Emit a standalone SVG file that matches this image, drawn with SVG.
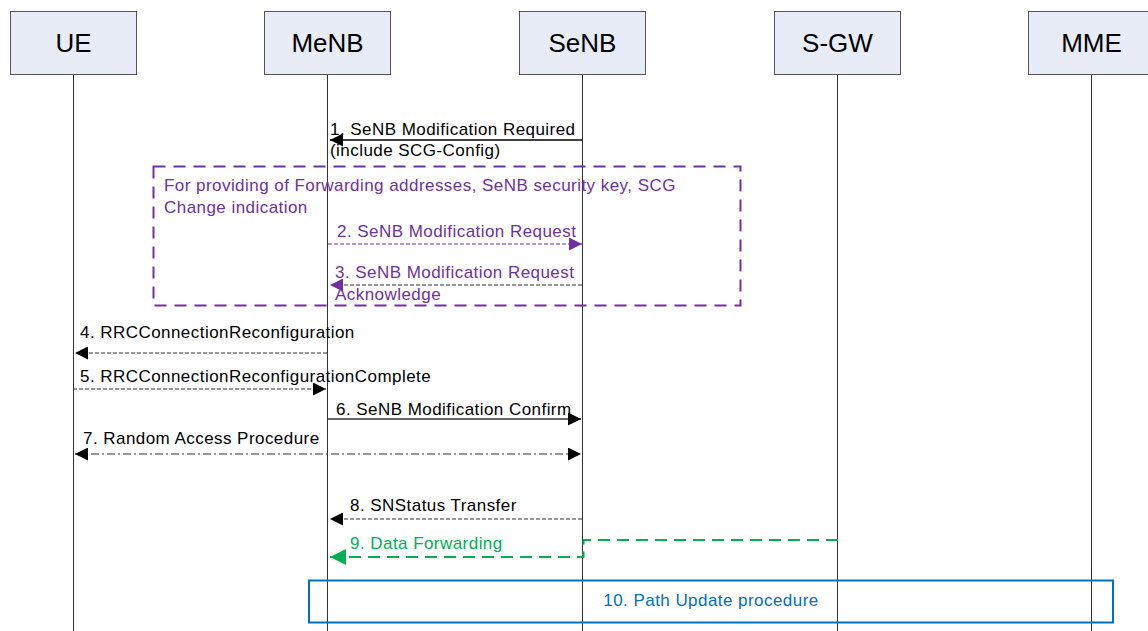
<svg xmlns="http://www.w3.org/2000/svg" width="1148" height="631" viewBox="0 0 1148 631">
<style>
.hdr{fill:#E7ECF6;stroke:#555;stroke-width:1}
.ht{font-family:"Liberation Sans",Arial,sans-serif;font-size:26px;fill:#000;text-anchor:middle}
.life{stroke:#333;stroke-width:1}
.t{font-family:"Liberation Sans",Arial,sans-serif;font-size:17px;letter-spacing:0.45px;fill:#000}
.p{fill:#7030A0}
.g{fill:#00B050}
.b{fill:#0070C0}
</style>
<defs>
<marker id="ab" viewBox="0 0 10 10" refX="10" refY="5" markerWidth="17" markerHeight="13" markerUnits="userSpaceOnUse" orient="auto-start-reverse"><path d="M0,0L10,5L0,10z" fill="#000"/></marker>
<marker id="ap" viewBox="0 0 10 10" refX="10" refY="5" markerWidth="17" markerHeight="13" markerUnits="userSpaceOnUse" orient="auto-start-reverse"><path d="M0,0L10,5L0,10z" fill="#7030A0"/></marker>
<marker id="ag" viewBox="0 0 10 10" refX="10" refY="5" markerWidth="20" markerHeight="16" markerUnits="userSpaceOnUse" orient="auto-start-reverse"><path d="M0,0L10,5L0,10z" fill="#00B050"/></marker>
</defs>
<rect width="1148" height="631" fill="#fff"/>
<g id="lifelines">
<line class="life" x1="73.5" y1="74" x2="73.5" y2="631"/>
<line class="life" x1="327.5" y1="74" x2="327.5" y2="631"/>
<line class="life" x1="582.5" y1="74" x2="582.5" y2="631"/>
<line class="life" x1="837.5" y1="74" x2="837.5" y2="631"/>
<line class="life" x1="1091.5" y1="74" x2="1091.5" y2="631"/>
</g>
<g id="UE"><rect class="hdr" x="10.5" y="11.5" width="126" height="63"/><text class="ht" x="73.5" y="52">UE</text></g>
<g id="MeNB"><rect class="hdr" x="264.5" y="11.5" width="126" height="63"/><text class="ht" x="327.5" y="52">MeNB</text></g>
<g id="SeNB"><rect class="hdr" x="519.5" y="11.5" width="126" height="63"/><text class="ht" x="582.5" y="52">SeNB</text></g>
<g id="S-GW"><rect class="hdr" x="774.5" y="11.5" width="126" height="63"/><text class="ht" x="837.5" y="52">S-GW</text></g>
<g id="MME"><rect class="hdr" x="1028.5" y="11.5" width="126" height="63"/><text class="ht" x="1091.5" y="52">MME</text></g>
<g id="group-box">
<rect x="153.5" y="166.5" width="587" height="139" fill="none" stroke="#7030A0" stroke-width="2" stroke-dasharray="12,8"/>
<text class="t p" x="164" y="191">For providing of Forwarding addresses, SeNB security key, SCG</text>
<text class="t p" x="164" y="213">Change indication</text>
</g>
<g id="path-update">
<rect x="309" y="580.5" width="804" height="42" fill="none" stroke="#0070C0" stroke-width="2"/>
<text class="t b" x="711" y="606" text-anchor="middle">10. Path Update procedure</text>
</g>
<g id="connectors">
<line x1="582" y1="140" x2="330" y2="140" stroke="#000" stroke-width="1.3" marker-end="url(#ab)"/>
<line x1="328" y1="244" x2="582" y2="244" stroke="#7030A0" stroke-width="1" stroke-dasharray="4,2" marker-end="url(#ap)"/>
<line x1="582" y1="285" x2="330" y2="285" stroke="#333" stroke-width="1" stroke-dasharray="4,2" marker-end="url(#ap)"/>
<line x1="327" y1="353" x2="75" y2="353" stroke="#333" stroke-width="1" stroke-dasharray="4,2" marker-end="url(#ab)"/>
<line x1="73" y1="389" x2="326" y2="389" stroke="#333" stroke-width="1" stroke-dasharray="4,2" marker-end="url(#ab)"/>
<line x1="327" y1="419" x2="581" y2="419" stroke="#333" stroke-width="1.3" marker-end="url(#ab)"/>
<line x1="75" y1="454" x2="581" y2="454" stroke="#333" stroke-width="1" stroke-dasharray="8,3,2,3" marker-start="url(#ab)" marker-end="url(#ab)"/>
<line x1="582" y1="519" x2="330" y2="519" stroke="#333" stroke-width="1" stroke-dasharray="4,2" marker-end="url(#ab)"/>
<polyline points="838,540 583.5,540 583.5,557 330,557" fill="none" stroke="#00B050" stroke-width="2" stroke-dasharray="12,7" marker-end="url(#ag)"/>
</g>
<g id="labels">
<text class="t" x="330" y="135">1. SeNB Modification Required</text>
<text class="t" x="330" y="156">(include SCG-Config)</text>
<text class="t p" x="337" y="237">2. SeNB Modification Request</text>
<text class="t p" x="335" y="278">3. SeNB Modification Request</text>
<text class="t p" x="335" y="300">Acknowledge</text>
<text class="t" x="80" y="338">4. RRCConnectionReconfiguration</text>
<text class="t" x="80" y="382">5. RRCConnectionReconfigurationComplete</text>
<text class="t" x="336" y="415">6. SeNB Modification Confirm</text>
<text class="t" x="83" y="444">7. Random Access Procedure</text>
<text class="t" x="350" y="511">8. SNStatus Transfer</text>
<text class="t g" x="350" y="549">9. Data Forwarding</text>
</g>
</svg>
